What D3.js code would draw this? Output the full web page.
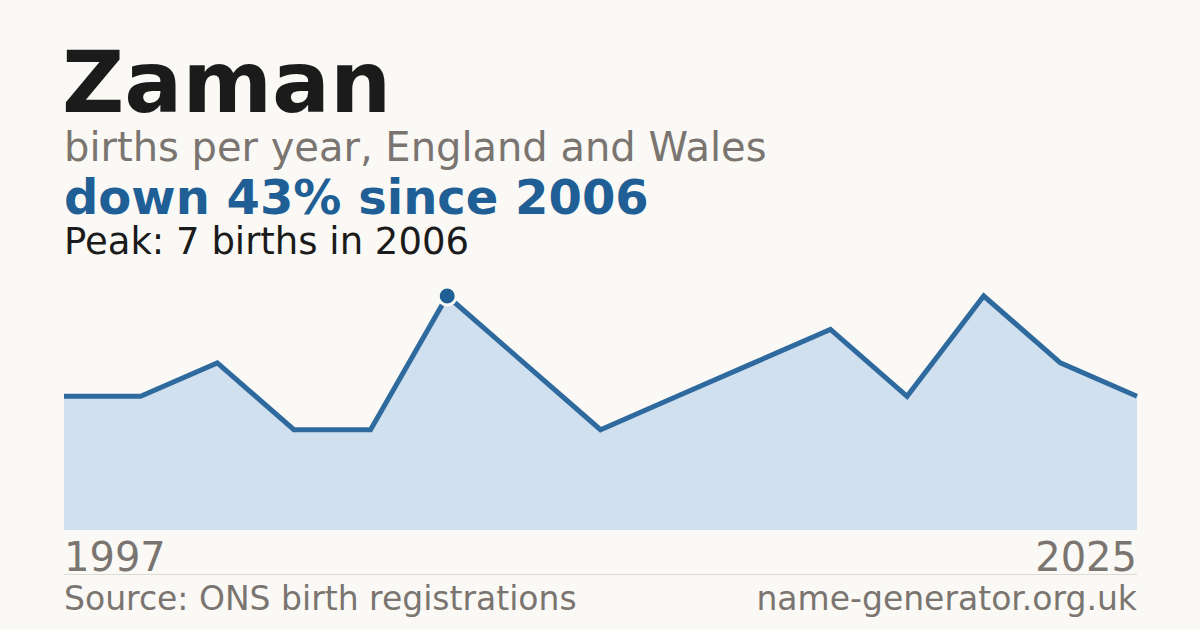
<!DOCTYPE html>
<html><head><meta charset="utf-8">
<script src="https://cdn.jsdelivr.net/npm/d3@7"></script>
<style>html,body{margin:0;padding:0;background:#faf9f5;}svg{display:block;}</style>
</head><body>
<svg id="c" width="1200" height="630"></svg>
<script>
const years = [1997, 1999, 2001, 2003, 2005, 2006, 2008, 2010, 2012, 2014, 2016, 2018, 2020, 2022, 2025];
const births = [4, 4, 5, 3, 3, 7, 5, 3, 4, 5, 6, 4, 7, 5, 4];
const axisLabels = ["1997", "2025"];
const peakYear = 2006;

(function(){
const svg = d3.select("#c");
const W = 1200, H = 630;
const pLeft = 64, pRight = 1137, pTop = 296, pBottom = 530;
const font = "'DejaVu Sans', sans-serif";

svg.append("rect").attr("width", W).attr("height", H).attr("fill", "#faf9f5");

const x = d3.scalePoint().domain(years).range([pLeft, pRight]);
const y = d3.scaleLinear().domain([0, d3.max(births)]).range([pBottom, pTop]);
const data = years.map((yr, i) => ({yr, v: births[i]}));

svg.append("path").datum(data)
  .attr("d", d3.area().x(d => x(d.yr)).y0(pBottom).y1(d => y(d.v)))
  .attr("fill", "#d0e0ef");
svg.append("path").datum(data)
  .attr("d", d3.line().x(d => x(d.yr)).y(d => y(d.v)))
  .attr("fill", "none").attr("stroke", "#2f6a9f").attr("stroke-width", 5)
  .attr("stroke-linejoin", "miter");

const peak = data.find(d => d.yr === peakYear);
svg.append("circle").attr("cx", x(peak.yr)).attr("cy", y(peak.v)).attr("r", 9)
  .attr("fill", "#1f5f96").attr("stroke", "#faf9f5").attr("stroke-width", 3);

const t = (txt, xx, yy, size, color, weight, anchor) =>
  svg.append("text").attr("x", xx).attr("y", yy).text(txt)
    .attr("font-family", font).attr("font-size", size).attr("fill", color)
    .attr("font-weight", weight || "normal").attr("text-anchor", anchor || "start");

t("Zaman", 62, 112, 86, "#1b1b1b", "bold");
t("births per year, England and Wales", 64, 161, 40, "#7a7570");
t("down 43% since 2006", 64, 214, 48, "#1f5f96", "bold");
t("Peak: 7 births in 2006", 64, 254, 37, "#1b1b1b");

t(axisLabels[0], 64, 571, 40, "#7a7570");
t(axisLabels[1], pRight, 571, 40, "#7a7570", "normal", "end");

svg.append("line").attr("x1", pLeft).attr("x2", pRight).attr("y1", 574.5).attr("y2", 574.5)
  .attr("stroke", "#dddad4").attr("stroke-width", 1);

t("Source: ONS birth registrations", 64, 610, 33, "#7a7570");
t("name-generator.org.uk", pRight, 610, 33, "#7a7570", "normal", "end");
})();
</script>
</body></html>
